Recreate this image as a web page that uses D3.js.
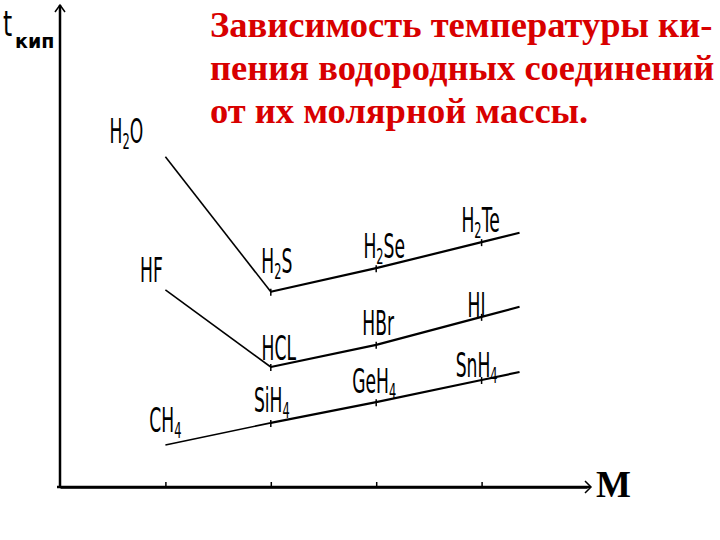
<!DOCTYPE html>
<html>
<head>
<meta charset="utf-8">
<script src="https://cdn.jsdelivr.net/npm/d3@7"></script>
<style>
body { margin: 0; background: #fff; }
</style>
</head>
<body>
<div id="chart"></div>
<script>
// periods (position along the molar mass axis)
var periods = [2, 3, 4, 5];
var xTicks = [2, 3, 4, 5];

// hydrides of group VI, VII and IV, with schematic boiling temperatures
var group6 = ["H2O", "H2S", "H2Se", "H2Te"];
var group6T = [68.5, 40.5, 45.4, 50.8];
var group7 = ["HF", "HCL", "HBr", "HI"];
var group7T = [40.9, 24.9, 29.5, 35.3];
var group4 = ["CH4", "SiH4", "GeH4", "SnH4"];
var group4T = [8.7, 13.3, 17.6, 22.2];

var titleLines = ["Зависимость температуры ки-", "пения водородных соединений", "от их молярной массы."];

function chart() {

var w = 720;
var h = 540;

// where each formula sits relative to its point [dx, baseline dy]
var nudge = {
  H2O: [-39, -14], H2S: [6, -19], H2Se: [8, -10], H2Te: [-1, -10],
  HF: [-14, -8], HCL: [8, -7], HBr: [2, -10], HI: [-5, 0],
  CH4: [0, -13], SiH4: [1, -11], GeH4: [-2, -9], SnH4: [-5, -3]
};

var x = d3.scaleLinear().domain([1, 6]).range([60, 587]);
var y = d3.scaleLinear().domain([0, 100]).range([487, 5]);

var svg = d3.select("#chart")
  .append("svg")
  .attr("width", w)
  .attr("height", h);

// title
svg.append("g")
  .selectAll("text")
  .data(titleLines)
  .enter().append("text")
  .attr("x", 210)
  .attr("y", function(d, i) { return 37 + i * 43; })
  .attr("fill", "#d80000")
  .attr("font-family", "'Liberation Serif', 'Times New Roman', serif")
  .attr("font-weight", "bold")
  .attr("font-size", 36.5)
  .text(function(d) { return d; });

// axes
var xAxis = d3.axisBottom(x)
  .tickValues(xTicks)
  .tickSizeInner(-5)
  .tickSizeOuter(0)
  .tickFormat("");
svg.append("g")
  .attr("transform", "translate(0," + y(0) + ")")
  .call(xAxis)
  .call(function(g) {
    g.select(".domain").attr("stroke-width", 2.5);
    g.selectAll(".tick line").attr("stroke-width", 1.5);
  });

var axisLine = svg.append("g")
  .attr("fill", "none")
  .attr("stroke", "#000");
axisLine.append("line")
  .attr("x1", x(1)).attr("y1", y(0) + 1)
  .attr("x2", x(1)).attr("y2", y(100))
  .attr("stroke-width", 2.5);
axisLine.append("line")
  .attr("x1", x(1) - 3).attr("y1", y(0))
  .attr("x2", x(6) + 3).attr("y2", y(0))
  .attr("stroke-width", 2.5);
axisLine.append("path")
  .attr("d", "M" + (x(1) - 5) + "," + (y(100) + 7) + "L" + x(1) + "," + y(100) + "L" + (x(1) + 5) + "," + (y(100) + 7))
  .attr("stroke-width", 1.5);
axisLine.append("path")
  .attr("d", "M" + (x(6) - 2) + "," + (y(0) - 6) + "L" + (x(6) + 4) + "," + y(0) + "L" + (x(6) - 2) + "," + (y(0) + 6))
  .attr("stroke-width", 1.5);

// axis names
var tl = svg.append("g").attr("transform", "translate(3,36)");
tl.append("text")
  .attr("transform", "scale(0.65,1)")
  .attr("font-family", "'DejaVu Sans', sans-serif")
  .attr("font-size", 36)
  .text("t");
svg.append("text")
  .attr("x", 15)
  .attr("y", 48)
  .attr("font-family", "'DejaVu Sans', sans-serif")
  .attr("font-weight", "bold")
  .attr("font-size", 19)
  .text("кип");
svg.append("text")
  .attr("x", 596)
  .attr("y", 497)
  .attr("font-family", "'Liberation Serif', 'Times New Roman', serif")
  .attr("font-weight", "bold")
  .attr("font-size", 37)
  .text("M");

// series lines
var series = [
  { names: group6, temps: group6T },
  { names: group7, temps: group7T },
  { names: group4, temps: group4T }
];

var line = d3.line()
  .x(function(d) { return x(d.p); })
  .y(function(d) { return y(d.t); });

series.forEach(function(s) {
  var pts = periods.map(function(p, i) { return { p: p, t: s.temps[i], name: s.names[i] }; });
  var n = pts.length;
  // the line runs on a bit past the last compound
  var slope = pts[n - 1].t - pts[n - 2].t;
  var ext = pts.slice(1).concat([{ p: pts[n - 1].p + 0.36, t: pts[n - 1].t + slope * 0.36 }]);

  svg.append("path")
    .datum(pts.slice(0, 2))
    .attr("fill", "none")
    .attr("stroke", "#000")
    .attr("stroke-width", 1.6)
    .attr("d", line);
  svg.append("path")
    .datum(ext)
    .attr("fill", "none")
    .attr("stroke", "#000")
    .attr("stroke-width", 2.2)
    .attr("d", line);

  svg.append("g")
    .selectAll("line")
    .data(pts.slice(1))
    .enter().append("line")
    .attr("x1", function(d) { return x(d.p); })
    .attr("x2", function(d) { return x(d.p); })
    .attr("y1", function(d) { return y(d.t) - 3; })
    .attr("y2", function(d) { return y(d.t) + 4; })
    .attr("stroke", "#000")
    .attr("stroke-width", 1.5);

  var lab = svg.append("g")
    .selectAll("g")
    .data(pts)
    .enter().append("g")
    .attr("transform", function(d) {
      var o = nudge[d.name];
      return "translate(" + (x(d.p) + o[0]) + "," + (y(d.t) + o[1]) + ") scale(0.52,1)";
    });
  lab.append("text")
    .attr("text-anchor", "middle")
    .attr("font-family", "'DejaVu Sans', sans-serif")
    .attr("font-size", 33)
    .each(function(d) {
      var t = d3.select(this);
      var low = false;
      d.name.split(/(\d)/).forEach(function(part) {
        if (!part) return;
        if (/\d/.test(part)) {
          t.append("tspan").attr("font-size", 22).attr("dy", 6).text(part);
          low = true;
        } else {
          t.append("tspan").attr("dy", low ? -6 : 0).text(part);
          low = false;
        }
      });
    });
});
}

chart();
</script>
</body>
</html>
